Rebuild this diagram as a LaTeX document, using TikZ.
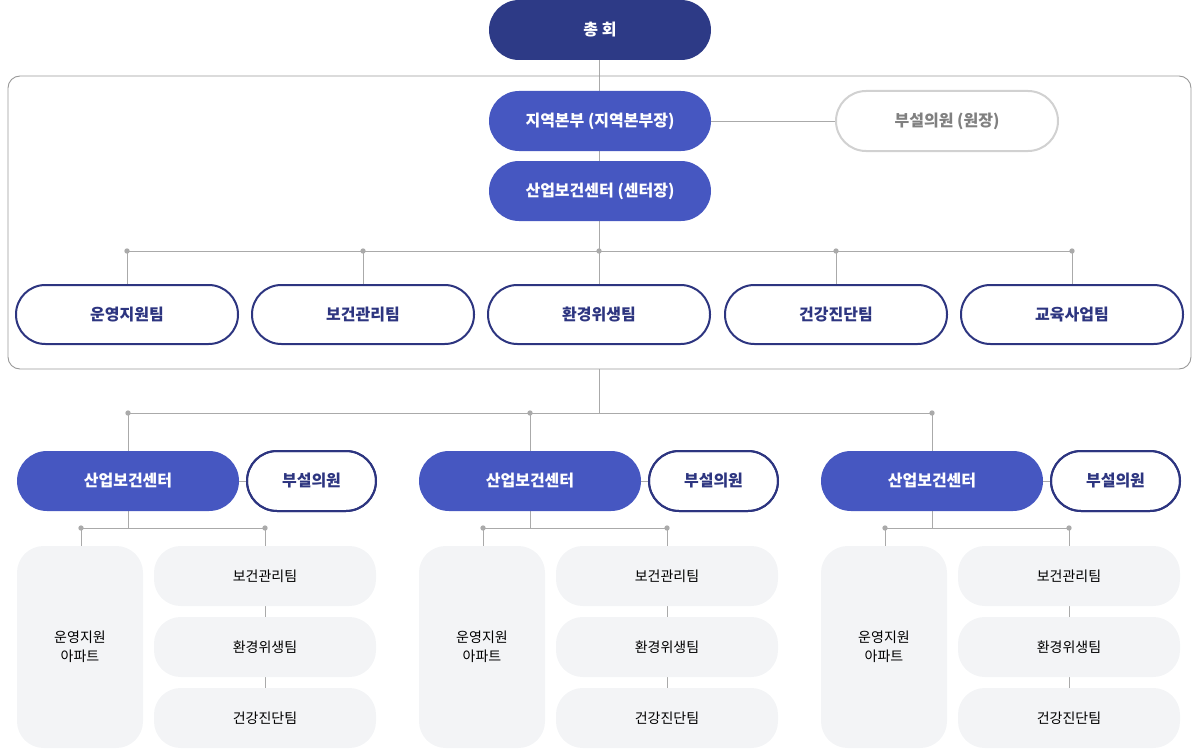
\documentclass[tikz,border=0pt]{standalone}
\usepackage{fontspec}
\setmainfont{Noto Sans CJK KR}
\newfontfamily\kb{Noto Sans CJK KR Bold}
\definecolor{dnavy}{HTML}{2D3A86}
\definecolor{mblue}{HTML}{4657C1}
\definecolor{tnavy}{HTML}{2D3580}
\definecolor{lgray}{HTML}{F3F4F6}
\definecolor{lnc}{HTML}{AAAAAA}
\begin{document}
\begin{tikzpicture}[x=0.75pt,y=-0.75pt,
  pill/.style={rounded corners=22.5pt,font=\bfseries\fontsize{12}{14}\selectfont},
  filled/.style={pill,fill=mblue,text=white},
  outl/.style={pill,fill=white,draw=tnavy,line width=1.5pt,text=tnavy},
  soft/.style={rounded corners=20pt,fill=lgray,font=\fontsize{10.5}{14}\selectfont,text=black,align=center},
  ln/.style={draw=lnc,line width=0.6pt},
  dot/.style={circle,fill=lnc,inner sep=0pt,minimum size=4pt}]
\useasboundingbox (0,0) rectangle (1200,749);
% lines top
\coordinate (tA) at (599,60); \coordinate (tB) at (599,251);
\draw[ln] (tA) -- (tB);
\draw[ln] (711,121) -- (836,121);
\draw[rounded corners=9pt,draw=lnc!90!black,line width=0.7pt] (8,76) rectangle (1191,369);
\draw[ln] (127,251) -- (1072,251);
\foreach \x in {127,363,599,836,1072}{\node[dot] at (\x,251){}; \draw[ln] (\x,251)--(\x,285);}
\draw[ln] (599,369) -- (599,413);
\draw[ln] (128,413) -- (932,413);
\foreach \o in {0,402,804}{
  \node[dot] at (128+\o,413){};
  \draw[ln] (128+\o,413)--(128+\o,451);
  \draw[ln] (239+\o,481)--(247+\o,481);
  \draw[ln] (128+\o,511)--(128+\o,528);
  \draw[ln] (81+\o,528)--(265+\o,528);
  \node[dot] at (81+\o,528){}; \node[dot] at (265+\o,528){};
  \draw[ln] (81+\o,528)--(81+\o,546);
  \draw[ln] (265+\o,528)--(265+\o,546);
  \draw[ln] (265+\o,606)--(265+\o,617);
  \draw[ln] (265+\o,677)--(265+\o,688);
  \path[filled] (17+\o,451) rectangle (239+\o,511);
  \node[text=white,font=\bfseries\fontsize{12}{14}\selectfont] (c\o) at (128+\o,481) {산업보건센터};
  \path[outl] (247+\o,451) rectangle (376+\o,511);
  \draw[tnavy,line width=1.5pt,rounded corners=22.5pt] (247+\o,451) rectangle (376+\o,511);
  \node[text=tnavy,font=\bfseries\fontsize{12}{14}\selectfont] (h\o) at (311.5+\o,481) {부설의원};
  \path[soft] (17+\o,546) rectangle (143+\o,748);
  \node[font=\fontsize{10.5}{14}\selectfont,align=center] (u\o) at (80+\o,647) {운영지원\\아파트};
  \path[soft] (154+\o,546) rectangle (376+\o,606);
  \node[font=\fontsize{10.5}{14}\selectfont] (b\o) at (265+\o,576) {보건관리팀};
  \path[soft] (154+\o,617) rectangle (376+\o,677);
  \node[font=\fontsize{10.5}{14}\selectfont] (e\o) at (265+\o,647) {환경위생팀};
  \path[soft] (154+\o,688) rectangle (376+\o,748);
  \node[font=\fontsize{10.5}{14}\selectfont] (g\o) at (265+\o,718) {건강진단팀};
}
% top nodes
\fill[dnavy,rounded corners=22.5pt] (489,0) rectangle (711,60);
\node[text=white,font=\bfseries\fontsize{12}{14}\selectfont] (ch) at (600,30) {총 회};
\fill[mblue,rounded corners=22.5pt] (489,91) rectangle (711,151);
\node[text=white,font=\bfseries\fontsize{12}{14}\selectfont] (jy) at (600,121) {지역본부 (지역본부장)};
\draw[fill=white,draw=black!18,line width=1.5pt,rounded corners=22.5pt] (836,91) rectangle (1058,151);
\node[text=black!50,font=\bfseries\fontsize{12}{14}\selectfont] (bs) at (947,121) {부설의원 (원장)};
\fill[mblue,rounded corners=22.5pt] (489,161) rectangle (711,221);
\node[text=white,font=\bfseries\fontsize{12}{14}\selectfont] (sc) at (600,191) {산업보건센터 (센터장)};
\foreach \x/\t/\n in {16/운영지원팀/t1,252/보건관리팀/t2,488/환경위생팀/t3,725/건강진단팀/t4,961/교육사업팀/t5}{
  \draw[fill=white,draw=tnavy,line width=1.5pt,rounded corners=22pt] (\x,285) rectangle (\x+222,344);
  \node[text=tnavy,font=\bfseries\fontsize{12}{14}\selectfont] (\n) at (\x+111,314.5) {\t};
}
\end{tikzpicture}
\end{document}
